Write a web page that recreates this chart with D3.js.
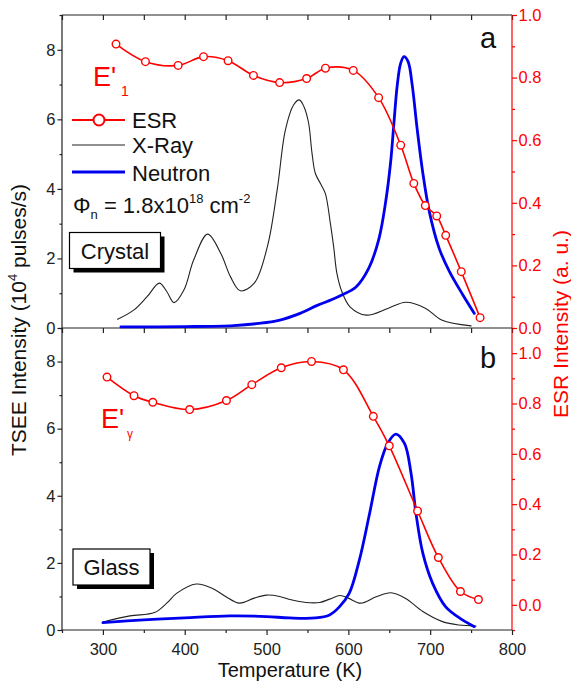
<!DOCTYPE html>
<html><head><meta charset="utf-8">
<script src="https://cdn.jsdelivr.net/npm/d3@7"></script>
<style>html,body{margin:0;padding:0;background:#fff;}svg{display:block;font-family:"Liberation Sans",Arial,sans-serif;}</style>
</head><body>
<svg id="c" width="571" height="683"></svg>
<script>
// ---- data (Temperature K, value) ----
const esrCrystal = [[316,0.907],[352,0.851],[392,0.839],[423,0.867],[453,0.854],[484,0.807],[516,0.784],[549,0.797],[572,0.830],[606,0.823],[637,0.736],[664,0.584],[680,0.462],[694,0.391],[708,0.358],[719,0.296],[738,0.180],[761,0.033]];
const xrayCrystal = [[318,0.25],[338,0.52],[354,0.9],[369,1.29],[378,1.05],[387,0.73],[399,1.09],[411,1.96],[428,2.70],[444,2.15],[456,1.47],[468,1.07],[485,1.29],[501,2.34],[513,3.97],[523,5.69],[533,6.41],[540,6.56],[546,6.35],[551.5,5.88],[555.6,5.02],[559.6,4.45],[565.7,4.16],[571.8,3.87],[578,3.01],[582,2.34],[586,1.57],[592,1.05],[602,0.61],[622,0.37],[649,0.57],[670,0.74],[694,0.57],[714,0.23],[750,0.06]];
const neutronCrystal = [[322,0.03],[400,0.04],[460,0.07],[490,0.13],[515,0.22],[541,0.42],[562,0.65],[580,0.82],[592,0.95],[609,1.17],[625,1.72],[637.5,2.58],[645.6,3.63],[651.7,4.78],[655.8,5.93],[659.8,6.99],[663.9,7.61],[668,7.80],[673,7.66],[678,6.99],[684,5.74],[690.8,4.49],[699,3.34],[711,2.29],[723.6,1.62],[740,0.95],[754,0.42]];
const esrGlass = [[305,0.905],[338,0.831],[361,0.805],[406,0.776],[451,0.812],[482,0.875],[518,0.942],[555,0.967],[594,0.934],[630.5,0.749],[650,0.632],[684.6,0.373],[710,0.188],[737,0.053],[759,0.021]];
const xrayGlass = [[300,0.24],[333,0.42],[363,0.52],[378,0.8],[390,1.09],[414,1.37],[434,1.24],[450,1.0],[467,0.8],[485,0.95],[500,1.04],[516,1.0],[530,0.9],[548,0.82],[565,0.82],[577,0.92],[590,1.03],[600,0.95],[615,0.8],[634,0.99],[652,1.11],[670,0.94],[691,0.55],[715,0.25],[735,0.15],[756,0.12]];
const neutronGlass = [[300,0.22],[350,0.3],[400,0.36],[455,0.42],[500,0.4],[528,0.36],[560,0.36],[577,0.45],[589,0.69],[601,1.09],[613.5,2.09],[626,3.48],[638,4.87],[648,5.56],[658,5.84],[668.6,5.56],[676.6,4.67],[682.6,3.48],[691,2.29],[703,1.39],[719,0.69],[739.5,0.30],[754,0.10]];

const xMajor = [300,400,500,600,700,800];
const xMinor = [250,350,450,550,650,750];
const xAll = [250,300,350,400,450,500,550,600,650,700,750,800];
const yLMajor = [0,2,4,6,8];
const yLMinor = [1,3,5,7,9];
const yRMajor = [0,0.2,0.4,0.6,0.8,1.0];
const yRMinorTop = [0.1,0.3,0.5,0.7,0.9];
const yRMinorBot = [-0.1,0.1,0.3,0.5,0.7,0.9,1.1];

const RED = "#ff0000", BLUE = "#0000ee", DARK = "#222";
const L = 62, R = 512, T1 = 15, M = 328, B2 = 630;
const TICKFS = 16.5;

const svg = d3.select("#c");
const x = d3.scaleLinear([250,800],[L,R]);
const yTL = d3.scaleLinear([0,9],[M,T1]);
const yTR = d3.scaleLinear([0,1],[M,T1]);
const yBL = d3.scaleLinear([0,9],[B2,M]);
const yBR = d3.scaleLinear([-0.1,1.1],[B2,M]);

function styleAxis(g,color){
  g.selectAll(".domain").remove();
  g.selectAll("line").attr("stroke",color).attr("stroke-width",1.2);
  g.selectAll("text").attr("fill",color).attr("font-size",TICKFS).attr("font-family","Liberation Sans, Arial, sans-serif");
}
function fmt1(d){ return d3.format(".1f")(d); }

// left axes
[yTL,yBL].forEach(s=>{
  svg.append("g").attr("transform",`translate(${L},0)`).call(d3.axisLeft(s).tickValues(yLMajor).tickSize(4.5).tickPadding(2).tickFormat(d3.format("d"))).call(g=>styleAxis(g,DARK));
  svg.append("g").attr("transform",`translate(${L},0)`).call(d3.axisLeft(s).tickValues(yLMinor).tickSize(2.5).tickFormat("")).call(g=>styleAxis(g,DARK));
});
// right axes
[[yTR,yRMinorTop],[yBR,yRMinorBot]].forEach(([s,mn])=>{
  svg.append("g").attr("transform",`translate(${R},0)`).call(d3.axisRight(s).tickValues(yRMajor).tickSize(5).tickPadding(1.5).tickFormat(fmt1)).call(g=>styleAxis(g,RED));
  svg.append("g").attr("transform",`translate(${R},0)`).call(d3.axisRight(s).tickValues(mn).tickSize(3).tickFormat("")).call(g=>styleAxis(g,RED));
});
// bottom x axis
svg.append("g").attr("transform",`translate(0,${B2})`).call(d3.axisBottom(x).tickValues(xMajor).tickSize(5).tickPadding(8).tickFormat(d3.format("d"))).call(g=>styleAxis(g,DARK));
svg.append("g").attr("transform",`translate(0,${B2})`).call(d3.axisBottom(x).tickValues(xMinor).tickSize(3).tickFormat("")).call(g=>styleAxis(g,DARK));
// inward ticks on top edge and middle edge
svg.append("g").attr("transform",`translate(0,${T1})`).call(d3.axisBottom(x).tickValues(xAll).tickSize(5).tickFormat("")).call(g=>styleAxis(g,DARK));
svg.append("g").attr("transform",`translate(0,${M})`).call(d3.axisBottom(x).tickValues(xAll).tickSize(5).tickFormat("")).call(g=>styleAxis(g,DARK));

// frame lines
svg.append("line").attr("x1",L).attr("x2",R).attr("y1",T1).attr("y2",T1).attr("stroke",DARK).attr("stroke-width",1.2);
svg.append("line").attr("x1",L).attr("x2",R).attr("y1",M).attr("y2",M).attr("stroke",DARK).attr("stroke-width",1.2);
svg.append("line").attr("x1",L).attr("x2",R).attr("y1",B2).attr("y2",B2).attr("stroke",DARK).attr("stroke-width",1.2);
svg.append("line").attr("x1",L).attr("x2",L).attr("y1",T1).attr("y2",B2).attr("stroke",DARK).attr("stroke-width",1.2);
svg.append("line").attr("x1",R).attr("x2",R).attr("y1",T1).attr("y2",B2).attr("stroke",RED).attr("stroke-width",1.2);

function drawLine(data, ys, color, w){
  const line = d3.line().x(d=>x(d[0])).y(d=>ys(d[1])).curve(d3.curveCatmullRom.alpha(0.5));
  svg.append("path").datum(data).attr("d",line).attr("fill","none").attr("stroke",color).attr("stroke-width",w).attr("stroke-linejoin","round").attr("stroke-linecap","round");
}
function drawPts(data, ys){
  svg.append("g").selectAll("circle").data(data).join("circle")
    .attr("cx",d=>x(d[0])).attr("cy",d=>ys(d[1])).attr("r",3.8)
    .attr("fill","#fff").attr("stroke",RED).attr("stroke-width",1.4);
}
// top panel
drawLine(xrayCrystal, yTL, "#222", 1.1);
drawLine(neutronCrystal, yTL, BLUE, 2.8);
drawLine(esrCrystal, yTR, RED, 1.6);
drawPts(esrCrystal, yTR);
// bottom panel
drawLine(xrayGlass, yBL, "#222", 1.1);
drawLine(neutronGlass, yBL, BLUE, 2.8);
drawLine(esrGlass, yBR, RED, 1.6);
drawPts(esrGlass, yBR);

// axis titles
svg.append("text").attr("transform","translate(26,320) rotate(-90)").attr("text-anchor","middle").attr("font-size",21).attr("fill","#111")
  .call(t=>{t.append("tspan").text("TSEE Intensity (10");t.append("tspan").attr("font-size",13).attr("dy",-9).text("4");t.append("tspan").attr("dy",9).text(" pulses/s)");});
svg.append("text").attr("transform","translate(568,324) rotate(-90)").attr("text-anchor","middle").attr("font-size",21).attr("fill",RED).text("ESR Intensity (a. u.)");
svg.append("text").attr("x",290).attr("y",677).attr("text-anchor","middle").attr("font-size",20).attr("fill","#111").text("Temperature (K)");

// panel letters
svg.append("text").attr("x",480).attr("y",48).attr("font-size",29).attr("fill","#111").text("a");
svg.append("text").attr("x",480).attr("y",368).attr("font-size",29).attr("fill","#111").text("b");

// E' labels
svg.append("text").attr("x",93).attr("y",86).attr("font-size",27).attr("fill",RED).text("E'");
svg.append("text").attr("x",121).attr("y",96).attr("font-size",14).attr("fill",RED).text("1");
svg.append("text").attr("x",101).attr("y",428).attr("font-size",27).attr("fill",RED).text("E'");
svg.append("text").attr("x",127).attr("y",438).attr("font-size",12).attr("fill",RED).text("γ");

// legend
const LFS = 22;
svg.append("line").attr("x1",72).attr("x2",125).attr("y1",120).attr("y2",120).attr("stroke",RED).attr("stroke-width",2);
svg.append("circle").attr("cx",99).attr("cy",120).attr("r",5.5).attr("fill","#fff").attr("stroke",RED).attr("stroke-width",2);
svg.append("text").attr("x",132).attr("y",128).attr("font-size",LFS).attr("fill","#111").text("ESR");
svg.append("line").attr("x1",72).attr("x2",125).attr("y1",145).attr("y2",145).attr("stroke","#222").attr("stroke-width",1.1);
svg.append("text").attr("x",132).attr("y",153).attr("font-size",LFS).attr("fill","#111").text("X-Ray");
svg.append("line").attr("x1",72).attr("x2",125).attr("y1",172).attr("y2",172).attr("stroke",BLUE).attr("stroke-width",2.8);
svg.append("text").attr("x",132).attr("y",181).attr("font-size",LFS).attr("fill","#111").text("Neutron");
svg.append("text").attr("x",73).attr("y",213).attr("font-size",LFS).attr("fill","#111")
  .call(t=>{
    t.append("tspan").text("Φ");
    t.append("tspan").attr("font-size",13).attr("dy",6).text("n");
    t.append("tspan").attr("dy",-6).text(" = 1.8x10");
    t.append("tspan").attr("font-size",13).attr("dy",-10).text("18");
    t.append("tspan").attr("dy",10).text(" cm");
    t.append("tspan").attr("font-size",13).attr("dy",-10).text("-2");
  });

// sample boxes
function box(x0,y0,w,h,label){
  svg.append("rect").attr("x",x0+4).attr("y",y0+4).attr("width",w).attr("height",h).attr("fill","#000");
  svg.append("rect").attr("x",x0).attr("y",y0).attr("width",w).attr("height",h).attr("fill","#fff").attr("stroke","#000").attr("stroke-width",1.2);
  svg.append("text").attr("x",x0+w/2).attr("y",y0+h/2+8).attr("text-anchor","middle").attr("font-size",LFS).attr("fill","#111").text(label);
}
box(69.5,232.5,91,36,"Crystal");
box(73,549,77,36,"Glass");
</script>
</body></html>
